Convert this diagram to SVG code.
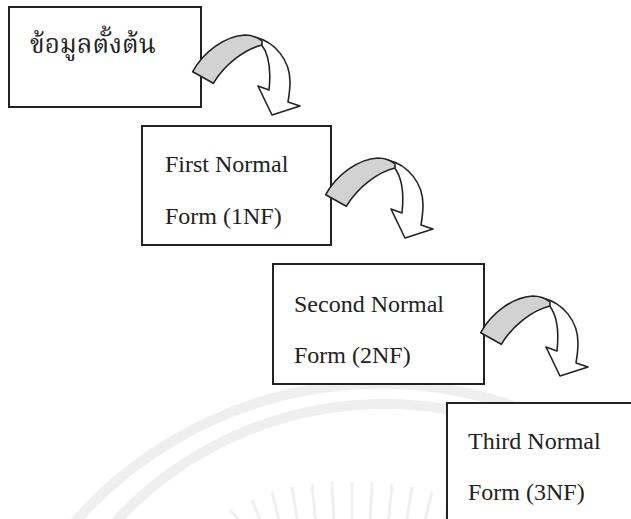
<svg xmlns="http://www.w3.org/2000/svg" xmlns:xlink="http://www.w3.org/1999/xlink" width="631" height="519" viewBox="0 0 631 519">
<style>
.box{fill:#fff;stroke:#222;stroke-width:2}
.lbl{font-family:"Liberation Serif","Times New Roman",serif;font-size:24px;fill:#222}
.thai{font-family:"Noto Serif Thai","Noto Sans Thai","Loma","Garuda","DejaVu Sans","Noto Sans",sans-serif;font-size:26px;fill:#222}
.wm{fill:none;stroke:#efefef;stroke-width:10}
.ray{stroke:#f0f0f0;stroke-width:3}
.aw{fill:#fff;stroke:#222;stroke-width:1.6;stroke-linejoin:round}
.ag{fill:#d2d2d2;stroke:#222;stroke-width:1.6;stroke-linejoin:round}
</style>
<defs>
<g id="curve-arrow">
<path class="aw" d="M255,37 C275,42 290,60 290,82 C290,90 289,96 288,102 L300,106 L272,115 L258,86 L269,90 C271,72 269,54 261,44 Z"/>
<path class="ag" d="M192.7,71.7 C203,52 225,36 245,35 C252,35 257,37 262,41 L262,45 C245,49 225,64 213.3,83.3 Z"/>
</g>
</defs>
<rect width="631" height="519" fill="#fff"/>
<g id="watermark">
<path class="wm" d="M60,540 A407,407 0 0 1 631,470"/>
<path class="wm" d="M100,540 A365,365 0 0 1 631,500"/>
<g class="ray">
<line x1="230" y1="510" x2="244" y2="525"/>
<line x1="252" y1="500" x2="262" y2="525"/>
<line x1="272" y1="492" x2="280" y2="525"/>
<line x1="292" y1="487" x2="298" y2="525"/>
<line x1="312" y1="484" x2="316" y2="525"/>
<line x1="332" y1="482" x2="334" y2="525"/>
<line x1="352" y1="482" x2="352" y2="525"/>
<line x1="372" y1="482" x2="370" y2="525"/>
<line x1="392" y1="484" x2="388" y2="525"/>
<line x1="412" y1="487" x2="406" y2="525"/>
<line x1="432" y1="492" x2="424" y2="525"/>
<line x1="452" y1="500" x2="442" y2="525"/>
</g>
</g>
<g id="node-initial">
<rect class="box" x="9" y="7" width="192" height="100"/>
<text class="thai" x="30" y="53">ข้อมูลตั้งต้น</text>
</g>
<g id="node-1nf">
<rect class="box" x="142" y="126" width="189" height="119"/>
<text class="lbl" x="165" y="172">First Normal</text>
<text class="lbl" x="165" y="224">Form (1NF)</text>
</g>
<g id="node-2nf">
<rect class="box" x="273" y="264" width="211" height="120"/>
<text class="lbl" x="294" y="312">Second Normal</text>
<text class="lbl" x="294" y="363">Form (2NF)</text>
</g>
<g id="node-3nf">
<rect class="box" x="447" y="403" width="220" height="150"/>
<text class="lbl" x="468" y="449">Third Normal</text>
<text class="lbl" x="468" y="500">Form (3NF)</text>
</g>
<g id="connectors">
<use xlink:href="#curve-arrow"/>
<use xlink:href="#curve-arrow" transform="translate(133,123)"/>
<use xlink:href="#curve-arrow" transform="translate(288,261)"/>
</g>
</svg>
